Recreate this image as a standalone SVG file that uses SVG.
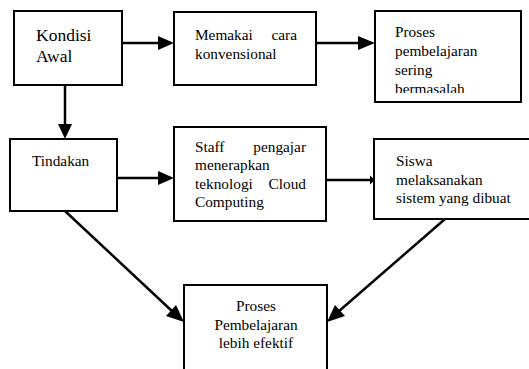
<svg xmlns="http://www.w3.org/2000/svg" width="529" height="369" viewBox="0 0 529 369">
<defs>
<style>
text{font-family:'Liberation Serif','DejaVu Serif',serif;font-size:15.3px;fill:#000}
.box{fill:#fff;stroke:#000;stroke-width:2}
.big{font-size:17.5px}
.ln{stroke:#000;stroke-width:2.5;fill:none}
.ah{fill:#000}
</style>
<clipPath id="c3"><rect x="375" y="11" width="146" height="82"/></clipPath>
</defs>
<rect width="529" height="369" fill="#fff"/>
<g id="connectors">
<line class="ln" x1="122" y1="43" x2="160" y2="43"/>
<polygon class="ah" points="174,43 158,36 158,50"/>
<line class="ln" x1="316" y1="43" x2="360" y2="43"/>
<polygon class="ah" points="375,43 358,36 358,50"/>
<line class="ln" x1="65" y1="85" x2="65" y2="127"/>
<polygon class="ah" points="65,139 58,124 72,124"/>
<line class="ln" x1="117" y1="178" x2="160" y2="178"/>
<polygon class="ah" points="174,178 158,171 158,185"/>
<line class="ln" x1="326" y1="180" x2="372" y2="180"/>
<polygon class="ah" points="375,180 370,175.5 370,184.5"/>
<line class="ln" x1="65" y1="211" x2="173" y2="312"/>
<polygon class="ah" points="184,322 166,316 176,305"/>
<line class="ln" x1="445" y1="219" x2="338" y2="312"/>
<polygon class="ah" points="327,322 335,305 345,316"/>
</g>
<g id="n1" font-family="Liberation Serif, serif">
<rect class="box" x="14" y="11" width="108" height="74"/>
<text class="big" x="36" y="41">Kondisi</text>
<text class="big" x="36" y="62">Awal</text>
</g>
<g id="n2" font-family="Liberation Serif, serif">
<rect class="box" x="174" y="12" width="142" height="73"/>
<text x="195" y="40">Memakai</text>
<text x="297" y="40" text-anchor="end">cara</text>
<text x="195" y="59">konvensional</text>
</g>
<g id="n3" font-family="Liberation Serif, serif">
<rect class="box" x="375" y="11" width="146" height="91"/>
<g clip-path="url(#c3)">
<text x="395" y="37">Proses</text>
<text x="395" y="56">pembelajaran</text>
<text x="395" y="75">sering</text>
<text x="395" y="94">bermasalah</text>
</g>
</g>
<g id="n4" font-family="Liberation Serif, serif">
<rect class="box" x="10" y="139" width="107" height="72"/>
<text x="32" y="166">Tindakan</text>
</g>
<g id="n5" font-family="Liberation Serif, serif">
<rect class="box" x="174" y="127" width="152" height="94"/>
<text x="195" y="152">Staff</text>
<text x="306" y="152" text-anchor="end">pengajar</text>
<text x="195" y="170">menerapkan</text>
<text x="195" y="189">teknologi</text>
<text x="306" y="189" text-anchor="end">Cloud</text>
<text x="195" y="207">Computing</text>
</g>
<g id="n6" font-family="Liberation Serif, serif">
<rect class="box" x="374" y="139" width="170" height="80"/>
<text x="396" y="166">Siswa</text>
<text x="396" y="185">melaksanakan</text>
<text x="396" y="203">sistem yang dibuat</text>
</g>
<g id="n7" font-family="Liberation Serif, serif">
<rect class="box" x="184" y="285" width="143" height="100"/>
<text x="256" y="311" text-anchor="middle">Proses</text>
<text x="256" y="330" text-anchor="middle">Pembelajaran</text>
<text x="256" y="348" text-anchor="middle">lebih efektif</text>
</g>
</svg>
